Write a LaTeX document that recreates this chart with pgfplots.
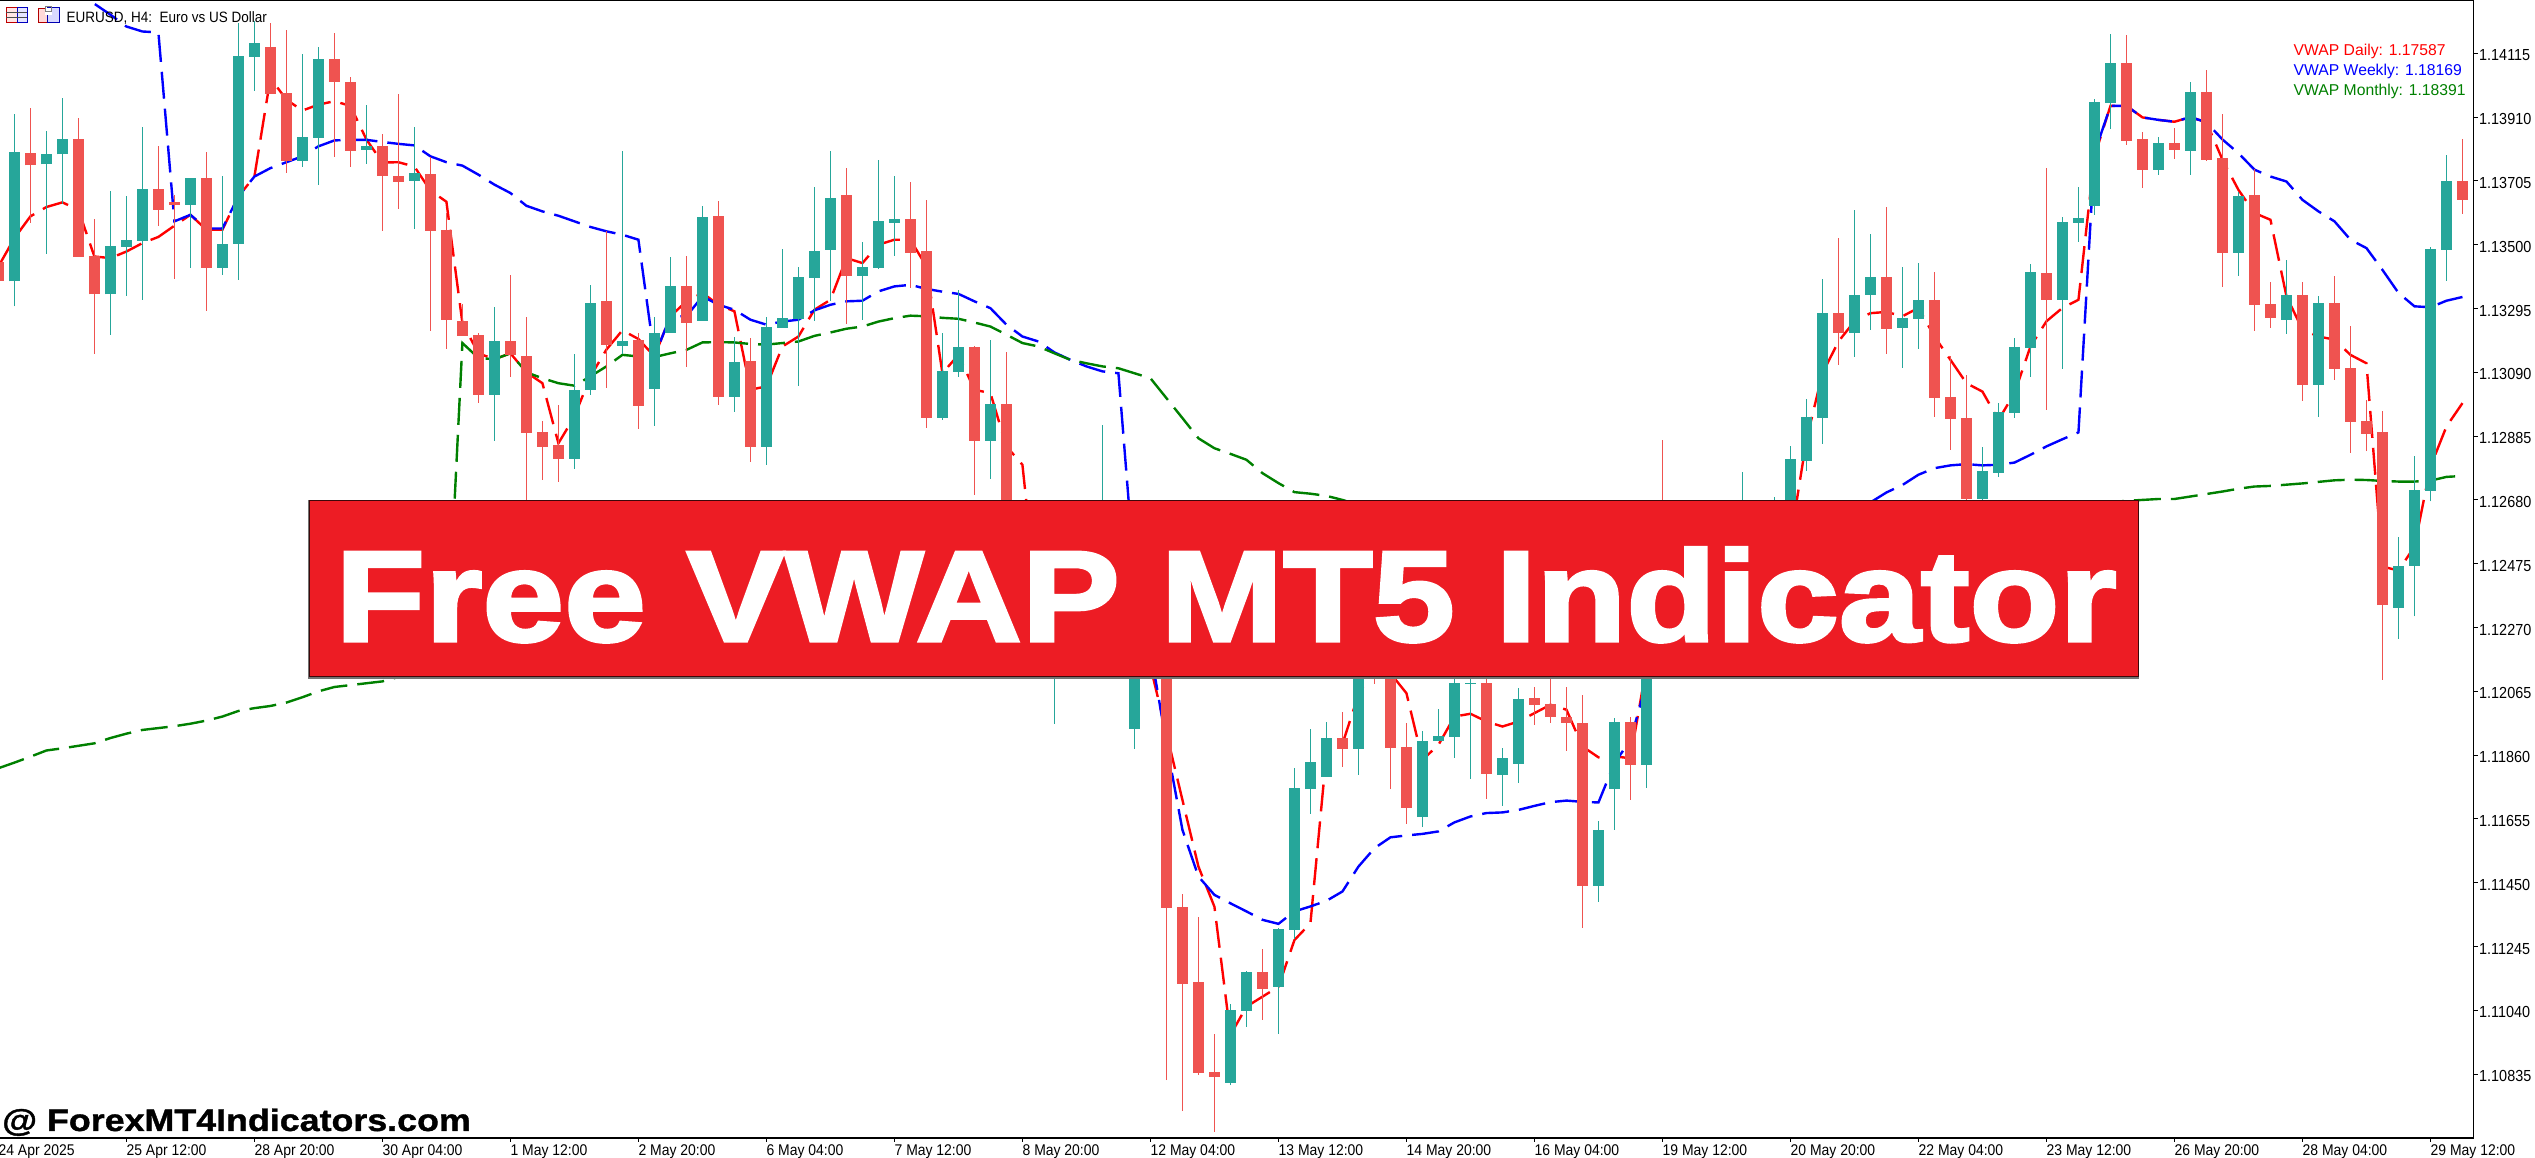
\documentclass[border=0pt]{standalone}
\usepackage{fontspec}
\usepackage{pgfplots}
\usepackage{pgfplotstable}
\pgfplotsset{compat=1.18}
\setmainfont{Liberation Sans}
\newfontfamily\chartfont[FakeStretch=0.9]{Liberation Sans}
\newfontfamily\bannerfont[BoldFeatures={FakeStretch=1.14,FakeBold=2.5}]{Liberation Sans}
\newfontfamily\markfont[BoldFeatures={FakeStretch=1.155,FakeBold=1.2}]{Liberation Sans}
\definecolor{bullc}{HTML}{26A69A}
\definecolor{bearc}{HTML}{EF5350}
\definecolor{vred}{HTML}{FF0000}
\definecolor{vblue}{HTML}{0000FF}
\definecolor{vgreen}{HTML}{008000}
\definecolor{banner}{HTML}{ED1C24}

% candles: bar index, open, high, low, close
\pgfplotstableread{
i o h l c
0 1.13382 1.13921 1.13302 1.13799
2 1.13758 1.13866 1.13471 1.13793
3 1.13790 1.13972 1.13631 1.13838
6 1.13340 1.13673 1.13211 1.13496
7 1.13493 1.13658 1.13336 1.13516
8 1.13512 1.13879 1.13323 1.13680
11 1.13628 1.13715 1.13426 1.13715
13 1.13426 1.13721 1.13403 1.13503
14 1.13503 1.14213 1.13387 1.14107
15 1.14104 1.14220 1.13995 1.14149
18 1.13770 1.14113 1.13750 1.13847
19 1.13844 1.14136 1.13692 1.14097
22 1.13805 1.13950 1.13760 1.13818
25 1.13705 1.13879 1.13551 1.13731
30 1.13018 1.13301 1.12870 1.13191
35 1.12812 1.13150 1.12780 1.13034
36 1.13034 1.13371 1.13018 1.13313
38 1.13175 1.13802 1.13150 1.13191
40 1.13037 1.13268 1.12918 1.13217
41 1.13217 1.13461 1.13217 1.13368
43 1.13256 1.13625 1.13256 1.13590
45 1.13012 1.13204 1.12963 1.13124
47 1.12851 1.13268 1.12793 1.13236
48 1.13233 1.13487 1.13233 1.13265
49 1.13262 1.13429 1.13047 1.13397
50 1.13394 1.13686 1.13256 1.13481
51 1.13483 1.13802 1.13320 1.13651
53 1.13400 1.13509 1.13259 1.13429
54 1.13426 1.13773 1.13423 1.13577
55 1.13570 1.13721 1.13464 1.13583
58 1.12944 1.13217 1.12937 1.13095
59 1.13092 1.13355 1.13076 1.13172
61 1.12870 1.13194 1.12748 1.12989
64 1.12273 1.12573 1.12198 1.12466
65 1.12412 1.12626 1.11961 1.12519
67 1.12359 1.12573 1.12273 1.12487
68 1.12487 1.12921 1.12412 1.12573
70 1.11945 1.12305 1.11880 1.12252
76 1.10807 1.11061 1.10800 1.11042
77 1.11039 1.11167 1.10987 1.11164
79 1.11116 1.11304 1.10965 1.11302
80 1.11299 1.11819 1.11270 1.11755
81 1.11751 1.11945 1.11671 1.11838
82 1.11790 1.11967 1.11790 1.11916
84 1.11880 1.12198 1.11797 1.12145
88 1.11661 1.11938 1.11629 1.11906
89 1.11906 1.12009 1.11906 1.11922
90 1.11919 1.12145 1.11851 1.12093
91 1.12089 1.12166 1.11784 1.12093
93 1.11797 1.11883 1.11697 1.11851
94 1.11832 1.12076 1.11772 1.12041
99 1.11440 1.11649 1.11389 1.11620
100 1.11751 1.11980 1.11620 1.11967
102 1.11829 1.12252 1.11755 1.12198
104 1.12166 1.12466 1.12145 1.12359
106 1.12252 1.12466 1.12198 1.12412
108 1.12359 1.12770 1.12305 1.12466
109 1.12466 1.12626 1.12412 1.12519
110 1.12519 1.12690 1.12466 1.12616
111 1.12616 1.12853 1.12573 1.12812
112 1.12805 1.13005 1.12773 1.12947
113 1.12944 1.13391 1.12860 1.13281
115 1.13217 1.13612 1.13140 1.13339
116 1.13339 1.13535 1.13227 1.13397
118 1.13233 1.13429 1.13105 1.13265
119 1.13262 1.13442 1.13166 1.13323
123 1.12683 1.12851 1.12669 1.12773
124 1.12767 1.12992 1.12754 1.12963
125 1.12960 1.13201 1.12944 1.13172
126 1.13169 1.13439 1.13076 1.13413
128 1.13323 1.13590 1.13101 1.13574
129 1.13570 1.13686 1.13509 1.13587
130 1.13625 1.13969 1.13596 1.13959
131 1.13956 1.14178 1.13873 1.14085
134 1.13741 1.13847 1.13725 1.13827
136 1.13802 1.14023 1.13725 1.13991
139 1.13474 1.13670 1.13400 1.13657
142 1.13259 1.13452 1.13214 1.13339
144 1.13050 1.13336 1.12947 1.13313
149 1.12334 1.12562 1.12234 1.12469
150 1.12469 1.12821 1.12306 1.12712
151 1.12709 1.13494 1.12675 1.13487
152 1.13483 1.13789 1.13384 1.13705
}\bull
\pgfplotstableread{
i o h l c
-1 1.13446 1.13473 1.13350 1.13382
1 1.13794 1.13940 1.13571 1.13755
4 1.13840 1.13908 1.13462 1.13462
5 1.13464 1.13583 1.13150 1.13340
9 1.13680 1.13818 1.13561 1.13612
10 1.13638 1.13660 1.13390 1.13629
12 1.13715 1.13798 1.13288 1.13426
16 1.14136 1.14213 1.13985 1.13985
17 1.13988 1.14191 1.13731 1.13770
20 1.14097 1.14181 1.13783 1.14023
21 1.14023 1.14040 1.13750 1.13802
23 1.13818 1.13857 1.13545 1.13721
24 1.13721 1.13985 1.13615 1.13702
26 1.13728 1.13783 1.13224 1.13545
27 1.13548 1.13601 1.13166 1.13259
28 1.13256 1.13310 1.13208 1.13208
29 1.13211 1.13216 1.12992 1.13018
31 1.13191 1.13403 1.13076 1.13146
32 1.13143 1.13268 1.12669 1.12896
33 1.12899 1.12934 1.12745 1.12851
34 1.12857 1.12986 1.12738 1.12812
37 1.13320 1.13545 1.13040 1.13178
39 1.13194 1.13216 1.12909 1.12983
42 1.13368 1.13464 1.13108 1.13249
44 1.13593 1.13641 1.12986 1.13012
46 1.13127 1.13201 1.12802 1.12851
52 1.13660 1.13747 1.13246 1.13400
56 1.13583 1.13702 1.13362 1.13474
57 1.13481 1.13644 1.12912 1.12944
60 1.13172 1.13175 1.12696 1.12870
62 1.12989 1.13156 1.12252 1.12359
63 1.12359 1.12466 1.12198 1.12273
66 1.12519 1.12616 1.12252 1.12359
69 1.12573 1.12626 1.12252 1.12359
71 1.12252 1.12305 1.12123 1.12145
72 1.12198 1.12252 1.10816 1.11369
73 1.11372 1.11415 1.10716 1.11125
74 1.11132 1.11340 1.10833 1.10839
75 1.10842 1.10965 1.10649 1.10826
78 1.11164 1.11238 1.11010 1.11109
83 1.11916 1.12000 1.11822 1.11880
85 1.12198 1.12252 1.12089 1.12145
86 1.12166 1.12198 1.11751 1.11883
87 1.11887 1.11964 1.11639 1.11691
92 1.12093 1.12198 1.11720 1.11800
95 1.12044 1.12079 1.11957 1.12022
96 1.12025 1.12109 1.11964 1.11983
97 1.11983 1.12079 1.11874 1.11964
98 1.11964 1.12054 1.11305 1.11440
101 1.11967 1.11983 1.11716 1.11829
103 1.12198 1.12873 1.12145 1.12166
105 1.12359 1.12519 1.12198 1.12252
107 1.12412 1.12573 1.12252 1.12359
114 1.13281 1.13522 1.13114 1.13217
117 1.13397 1.13622 1.13150 1.13230
120 1.13323 1.13413 1.12947 1.13008
121 1.13012 1.13143 1.12841 1.12941
122 1.12944 1.13082 1.12669 1.12683
127 1.13410 1.13747 1.12970 1.13323
132 1.14085 1.14175 1.13821 1.13834
133 1.13838 1.13863 1.13683 1.13741
135 1.13827 1.13876 1.13776 1.13805
137 1.13991 1.14062 1.13770 1.13773
138 1.13779 1.13921 1.13365 1.13474
140 1.13660 1.13744 1.13224 1.13307
141 1.13310 1.13381 1.13233 1.13265
143 1.13339 1.13381 1.12998 1.13050
145 1.13313 1.13400 1.13066 1.13101
146 1.13105 1.13240 1.12831 1.12931
147 1.12934 1.13002 1.12837 1.12893
148 1.12899 1.12966 1.12102 1.12342
153 1.13705 1.13838 1.13599 1.13644
}\bear

% VWAP lines
\pgfplotstableread{
i v
-1 1.13430
0 1.13521
1 1.13591
2 1.13621
3 1.13636
4 1.13612
5 1.13462
6 1.13457
7 1.13478
8 1.13505
9 1.13525
10 1.13561
11 1.13596
12 1.13548
13 1.13548
14 1.13655
15 1.13719
16 1.14035
17 1.13966
18 1.13931
19 1.13950
20 1.13961
21 1.13946
22 1.13838
23 1.13764
24 1.13765
25 1.13751
26 1.13674
27 1.13638
28 1.13248
29 1.13151
30 1.13132
31 1.13151
32 1.13090
33 1.13055
34 1.12862
35 1.12948
36 1.13077
37 1.13163
38 1.13225
39 1.13197
40 1.13141
41 1.13270
42 1.13318
43 1.13345
44 1.13307
45 1.13286
46 1.13034
47 1.13045
48 1.13173
49 1.13205
50 1.13291
51 1.13323
52 1.13457
53 1.13441
54 1.13500
55 1.13516
56 1.13516
57 1.13430
58 1.13087
59 1.13146
60 1.13034
61 1.13023
62 1.12852
63 1.12793
64 1.12305
65 1.12252
66 1.12230
67 1.12188
68 1.12166
69 1.12198
70 1.12198
71 1.12145
72 1.11931
73 1.11716
74 1.11502
75 1.11373
76 1.10961
77 1.11052
78 1.11084
79 1.11116
80 1.11266
81 1.11320
82 1.11866
83 1.11896
84 1.12054
85 1.12145
86 1.12123
87 1.12059
88 1.11845
89 1.11893
90 1.11984
91 1.11993
92 1.11968
93 1.11952
94 1.11968
95 1.11995
96 1.12022
97 1.12006
98 1.11888
99 1.11853
100 1.11856
101 1.11850
102 1.12145
103 1.12198
104 1.12252
105 1.12295
106 1.12359
107 1.12412
108 1.12444
109 1.12466
110 1.12487
111 1.12551
112 1.12873
113 1.13087
114 1.13189
115 1.13254
116 1.13280
117 1.13284
118 1.13270
119 1.13297
120 1.13205
121 1.13130
122 1.13055
123 1.13028
124 1.12937
125 1.13023
126 1.13173
127 1.13254
128 1.13297
129 1.13323
130 1.13784
131 1.13946
132 1.13946
133 1.13909
134 1.13901
135 1.13895
136 1.13910
137 1.13893
138 1.13773
139 1.13676
140 1.13602
141 1.13580
142 1.13334
143 1.13227
144 1.13205
145 1.13195
146 1.13146
147 1.13119
148 1.12466
149 1.12453
150 1.12530
151 1.12787
152 1.12916
153 1.12991
}\daily
\pgfplotstableread{
i v
3 1.14330
4 1.14303
5 1.14274
6 1.14239
7 1.14201
8 1.14185
9 1.14182
10 1.13575
11 1.13596
12 1.13552
13 1.13552
14 1.13655
15 1.13719
16 1.13746
17 1.13765
18 1.13784
19 1.13816
20 1.13835
21 1.13837
22 1.13837
23 1.13830
24 1.13824
25 1.13819
26 1.13784
27 1.13765
28 1.13754
29 1.13725
30 1.13693
31 1.13666
32 1.13625
33 1.13607
34 1.13593
35 1.13575
36 1.13557
37 1.13543
38 1.13532
39 1.13516
40 1.13141
41 1.13270
42 1.13270
43 1.13334
44 1.13307
45 1.13291
46 1.13259
47 1.13243
48 1.13253
49 1.13259
50 1.13289
51 1.13307
52 1.13318
53 1.13320
54 1.13350
55 1.13366
56 1.13371
57 1.13358
58 1.13349
59 1.13342
60 1.13318
61 1.13296
62 1.13243
63 1.13205
64 1.13189
65 1.13154
66 1.13130
67 1.13109
68 1.13093
69 1.13087
70 1.12444
71 1.12198
72 1.11898
73 1.11620
74 1.11470
75 1.11411
76 1.11384
77 1.11358
78 1.11331
79 1.11318
80 1.11358
81 1.11374
82 1.11392
83 1.11422
84 1.11502
85 1.11561
86 1.11596
87 1.11602
88 1.11607
89 1.11615
90 1.11644
91 1.11663
92 1.11674
93 1.11676
94 1.11684
95 1.11697
96 1.11709
97 1.11714
98 1.11710
99 1.11708
100 1.11834
101 1.11909
102 1.12091
103 1.12305
104 1.12359
105 1.12380
106 1.12412
107 1.12434
108 1.12466
109 1.12487
110 1.12509
111 1.12530
112 1.12562
113 1.12584
114 1.12605
115 1.12637
116 1.12672
117 1.12704
118 1.12728
119 1.12761
120 1.12782
121 1.12791
122 1.12795
123 1.12791
124 1.12793
125 1.12800
126 1.12825
127 1.12852
128 1.12875
129 1.12897
130 1.13794
131 1.13946
132 1.13946
133 1.13909
134 1.13901
135 1.13895
136 1.13910
137 1.13893
138 1.13838
139 1.13794
140 1.13741
141 1.13719
142 1.13703
143 1.13644
144 1.13607
145 1.13575
146 1.13516
147 1.13489
148 1.13419
149 1.13345
150 1.13302
151 1.13299
152 1.13320
153 1.13332
}\weekly
\pgfplotstableread{
i v
-1 1.11818
0 1.11836
1 1.11855
2 1.11875
3 1.11882
4 1.11890
5 1.11898
6 1.11915
7 1.11929
8 1.11941
9 1.11947
10 1.11953
11 1.11961
12 1.11971
13 1.11984
14 1.12002
15 1.12011
16 1.12018
17 1.12029
18 1.12046
19 1.12065
20 1.12079
21 1.12085
22 1.12091
23 1.12097
24 1.12111
25 1.12123
26 1.12134
27 1.12145
28 1.13184
29 1.13136
30 1.13132
31 1.13151
32 1.13090
33 1.13071
34 1.13055
35 1.13047
36 1.13077
37 1.13109
38 1.13146
39 1.13141
40 1.13139
41 1.13151
42 1.13162
43 1.13186
44 1.13187
45 1.13186
46 1.13181
47 1.13179
48 1.13184
49 1.13189
50 1.13207
51 1.13218
52 1.13230
53 1.13237
54 1.13253
55 1.13264
56 1.13272
57 1.13270
58 1.13265
59 1.13262
60 1.13250
61 1.13237
62 1.13211
63 1.13184
64 1.13173
65 1.13151
66 1.13130
67 1.13119
68 1.13109
69 1.13103
70 1.13087
71 1.13071
72 1.13007
73 1.12943
74 1.12878
75 1.12846
76 1.12828
77 1.12809
78 1.12766
79 1.12734
80 1.12705
81 1.12700
82 1.12693
83 1.12680
84 1.12664
90 1.12573
100 1.12509
110 1.12552
120 1.12616
130 1.12669
132 1.12677
133 1.12680
134 1.12683
135 1.12683
136 1.12691
137 1.12699
138 1.12707
139 1.12716
140 1.12723
141 1.12725
142 1.12729
143 1.12733
144 1.12738
145 1.12743
146 1.12745
147 1.12744
148 1.12741
149 1.12739
150 1.12739
151 1.12742
152 1.12754
153 1.12757
}\monthly

\pgfplotsset{
  wick/.style={draw=none,mark=none,forget plot,
    error bars/.cd,y dir=plus,y explicit,error mark=none,
    error bar style={solid,line width=1.1pt,draw=#1}},
  body/.style={draw=none,mark=none,forget plot,
    error bars/.cd,y dir=plus,y explicit,error mark=none,
    error bar style={solid,line width=10.8pt,draw=#1}},
  vwap/.style={draw=#1,line width=2.4pt,dash pattern=on 27pt off 10pt,mark=none,forget plot},
}

\begin{document}
\begin{tikzpicture}[x=1pt,y=1pt]
\useasboundingbox (0,0) rectangle (2535,1158);
\begin{axis}[
  at={(-1.6pt,20pt)},anchor=south west,
  scale only axis,width=2475.1pt,height=1137pt,
  xmin=-1,xmax=153.69,ymin=1.10630,ymax=1.14283,
  axis line style={draw=none},
  tick align=outside,xtick pos=bottom,ytick pos=right,
  major tick length=4pt,
  every tick/.style={black,line width=1pt},
  xtick={-1,7,15,23,31,39,47,55,63,71,79,87,95,103,111,119,127,135,143,151},
  xticklabels={24 Apr 2025,25 Apr 12:00,28 Apr 20:00,30 Apr 04:00,1 May 12:00,2 May 20:00,6 May 04:00,7 May 12:00,8 May 20:00,12 May 04:00,13 May 12:00,14 May 20:00,16 May 04:00,19 May 12:00,20 May 20:00,22 May 04:00,23 May 12:00,26 May 20:00,28 May 04:00,29 May 12:00},
  ytick={1.10835,1.11040,1.11245,1.11450,1.11655,1.11860,1.12065,1.12270,1.12475,1.12680,1.12885,1.13090,1.13295,1.13500,1.13705,1.13910,1.14115},
  yticklabels={1.10835,1.11040,1.11245,1.11450,1.11655,1.11860,1.12065,1.12270,1.12475,1.12680,1.12885,1.13090,1.13295,1.13500,1.13705,1.13910,1.14115},
  xticklabel style={font=\chartfont\fontsize{15.5}{15.5}\selectfont,anchor=north west,inner xsep=0pt,inner ysep=0pt,yshift=-2pt},
  yticklabel style={font=\chartfont\fontsize{16}{16}\selectfont,anchor=west,inner xsep=0pt,xshift=1.5pt,yshift=-2pt},
]
% lines lie under the candles
\addplot[vwap=vred] table[x=i,y=v]{\daily};
\addplot[vwap=vblue] table[x=i,y=v]{\weekly};
\addplot[vwap=vgreen] table[x=i,y=v]{\monthly};
% wicks
\addplot[wick=bullc] table[x=i,y=l,y error expr=\thisrow{h}-\thisrow{l}]{\bull};
\addplot[wick=bearc] table[x=i,y=l,y error expr=\thisrow{h}-\thisrow{l}]{\bear};
% bodies
\addplot[body=bullc] table[x=i,y=o,y error expr=\thisrow{c}-\thisrow{o}]{\bull};
\addplot[body=bearc] table[x=i,y=c,y error expr=\thisrow{o}-\thisrow{c}]{\bear};
\end{axis}
% frame: top, right and bottom only
\draw[black,line width=1.2pt] (0,1157.4) -- (2473.5,1157.4);
\draw[black,line width=1pt] (2473.5,1158) -- (2473.5,20);
\draw[black,line width=1.2pt] (0,20) -- (2473.5,20);
% chart header icons
\draw[red!75!black,line width=1pt,fill=red!10] (6,1135) rectangle (17,1150);
\draw[blue!75!black,line width=1pt,fill=blue!10] (17,1135) rectangle (27,1150);
\foreach \yy in {1140,1145} \draw[black!70,line width=1pt] (6,\yy) -- (27,\yy);
\draw[red!70!black,line width=1pt,fill=red!15] (38,1135) rectangle (47,1149);
\draw[blue!70!black,line width=1pt,fill=blue!15] (47,1135) rectangle (59,1150);
\fill[white] (45,1143) rectangle (52,1150);
\draw[black!50,line width=1pt] (45,1146) rectangle (51,1151);
\node[anchor=west,inner sep=0pt,font=\chartfont\fontsize{15}{15}\selectfont] at (66.5,1140) {EURUSD, H4:\ \ Euro vs US Dollar};
% indicator readouts
\node[anchor=west,inner sep=0pt,text=vred,font=\fontsize{15.7}{15.7}\selectfont] at (2293.5,1107) {VWAP Daily: 1.17587};
\node[anchor=west,inner sep=0pt,text=vblue,font=\fontsize{15.7}{15.7}\selectfont] at (2293.5,1087) {VWAP Weekly: 1.18169};
\node[anchor=west,inner sep=0pt,text=vgreen,font=\fontsize{15.7}{15.7}\selectfont] at (2293.5,1067) {VWAP Monthly: 1.18391};
% banner
\fill[black!55] (308,479) rectangle (2139,658);
\draw[black!75!banner,fill=banner,line width=1pt] (309,481) rectangle (2138,657);
\node[anchor=base,inner sep=0pt,text=white,font={\bannerfont\bfseries\fontsize{129}{130}\selectfont}] at (1226,517) {Free VWAP MT5 Indicator};
% watermark
\node[anchor=base west,inner sep=0pt,font={\markfont\bfseries\fontsize{31}{32}\selectfont}] at (2,27) {@ ForexMT4Indicators.com};
\end{tikzpicture}
\end{document}
